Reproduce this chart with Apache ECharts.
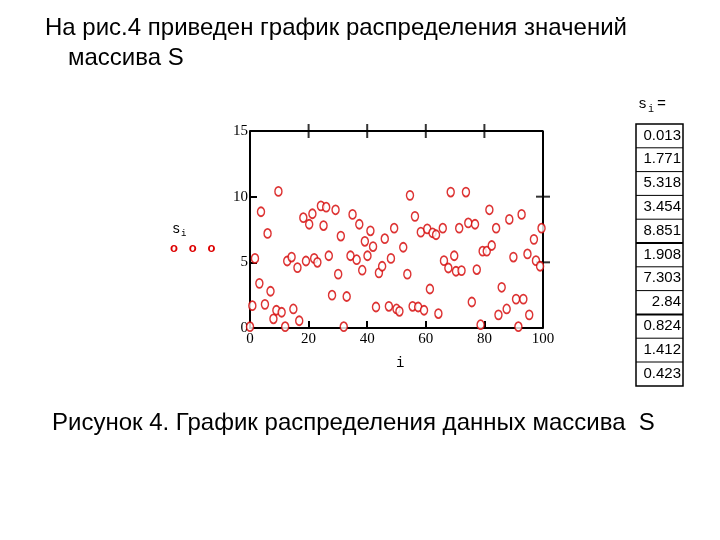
<!DOCTYPE html>
<html><head><meta charset="utf-8">
<script src="https://cdn.jsdelivr.net/npm/echarts@6/dist/echarts.min.js"></script>
<style>body{margin:0;background:#fff}#c{width:720px;height:540px}</style>
</head><body><div id="c"></div>
<script>
const xTicks=[0,20,40,60,80,100];
const yTicks=[0,5,10,15];
const tableValues=['0.013','1.771','5.318','3.454','8.851','1.908','7.303','2.84','0.824','1.412','0.423'];
const pointsI=[0,0.8,1.7,3.2,3.75,5.1,6,7,8,9,10.8,9.7,12,12.7,14.2,14.8,16.2,16.8,18.2,19.1,20.2,21.3,21.9,23,24.2,25.1,26,26.9,28,29.2,30.1,31,32,33,34.3,35,36.4,37.3,38.3,39.2,40.1,41.1,42,43,44,45.1,46,47.4,48.1,49.2,50,
54.6,68.5,73.7,56.3,52.3,53.7,58.3,60.5,62.3,63.5,65.8,71.4,74.5,76.8,81.7,84,88.5,92.7,99.5,96.9,79.4,80.8,82.5,69.7,66.2,67.7,70.3,72.2,77.4,89.9,94.7,97.6,99,61.4,85.9,75.7,90.8,93.3,87.6,84.8,95.3,51,55.5,57.4,59.4,64.3,78.7,91.6];
const pointsS=[0.1,1.7,5.3,3.4,8.85,1.8,7.2,2.8,0.7,1.35,1.2,10.4,0.1,5.1,5.4,1.45,4.6,0.55,8.4,5.1,7.9,8.7,5.3,5.0,9.3,7.8,9.2,5.5,2.5,9.0,4.1,7.0,0.1,2.4,5.5,8.65,5.2,7.9,4.4,6.6,5.5,7.4,6.2,1.6,4.2,4.7,6.8,1.65,5.3,7.6,1.45,
10.1,10.35,10.35,8.5,6.15,4.1,7.3,7.55,7.25,7.1,7.6,7.6,8.0,7.9,9.0,7.6,8.27,8.65,7.6,6.75,5.85,5.85,6.28,5.5,5.13,4.57,4.32,4.37,4.45,5.4,5.64,5.13,4.7,2.97,3.1,1.98,2.2,2.2,1.45,1.0,1.0,1.27,1.65,1.6,1.35,1.1,0.25,0.1];
const data=pointsI.map((x,k)=>[x,pointsS[k]]);
const graphics=[
 {type:'text',left:45,top:16,style:{text:'На рис.4 приведен график распределения значений',font:'24px "Liberation Sans"',fill:'#000'}},
 {type:'text',left:68,top:46,style:{text:'массива S',font:'24px "Liberation Sans"',fill:'#000'}},
 {type:'text',left:52,top:411,style:{text:'Рисунок 4. График распределения данных массива  S',font:'24px "Liberation Sans"',fill:'#000'}},
 {type:'text',left:172,top:222,style:{text:'s',font:'14px "Liberation Mono"',fill:'#000'}},
 {type:'text',left:181,top:229,style:{text:'i',font:'9px "Liberation Mono"',fill:'#000'}},
 {type:'text',left:170,top:242,style:{text:'o   o   o',font:'bold 13px "Liberation Sans"',fill:'#d00'}},
 {type:'text',left:396,top:356,style:{text:'i',font:'14px "Liberation Mono"',fill:'#000'}},
 {type:'text',left:638,top:97,style:{text:'s',font:'15px "Liberation Mono"',fill:'#000'}},
 {type:'text',left:648,top:104,style:{text:'i',font:'10px "Liberation Mono"',fill:'#000'}},
 {type:'text',left:657,top:97,style:{text:'=',font:'15px "Liberation Mono"',fill:'#000'}},
 {type:'rect',shape:{x:636,y:124,width:47,height:262},style:{fill:'none',stroke:'#000',lineWidth:1.5}}
];
tableValues.forEach((v,k)=>{
 const y=124+k*23.8;
 if(k>0)graphics.push({type:'line',shape:{x1:636,y1:y,x2:683,y2:y},style:{stroke:'#000',lineWidth:(k===5||k===8)?2:1}});
 graphics.push({type:'text',right:720-681,top:y+4,style:{text:v,font:'15px "Liberation Sans"',fill:'#000',align:'right'}});
});
const chart=echarts.init(document.getElementById('c'));
chart.setOption({
 animation:false,
 grid:{left:250,right:177,top:131,bottom:212},
 xAxis:{type:'value',min:0,max:100,interval:20,
  axisLine:{lineStyle:{color:'#000',width:2}},
  axisTick:{inside:true,length:7,lineStyle:{color:'#000',width:2}},
  axisLabel:{color:'#000',fontFamily:'Liberation Serif',fontSize:15,margin:4,formatter:v=>xTicks.includes(v)?v:''},
  splitLine:{show:false}},
 yAxis:{type:'value',min:0,max:15,interval:5,
  axisLine:{show:true,lineStyle:{color:'#000',width:2}},
  axisTick:{show:true,inside:true,length:7,lineStyle:{color:'#000',width:2}},
  axisLabel:{color:'#000',fontFamily:'Liberation Serif',fontSize:15,margin:2,formatter:v=>yTicks.includes(v)?v:''},
  splitLine:{show:false}},
 graphic:graphics,
 series:[
  {type:'scatter',data:data,symbol:'circle',symbolSize:[7,9],
   itemStyle:{color:'#fff',borderColor:'#d40000',borderWidth:1.6},z:3},
  {type:'line',data:[[0,15],[100,15],[100,0]],symbol:'none',lineStyle:{color:'#000',width:2},silent:true,z:2},
  {type:'scatter',data:[[20,15],[40,15],[60,15],[80,15]],symbol:'rect',symbolSize:[2,14],itemStyle:{color:'#000'},silent:true},
  {type:'scatter',data:[[100,5],[100,10]],symbol:'rect',symbolSize:[14,2],itemStyle:{color:'#000'},silent:true}
 ]
});
</script></body></html>
